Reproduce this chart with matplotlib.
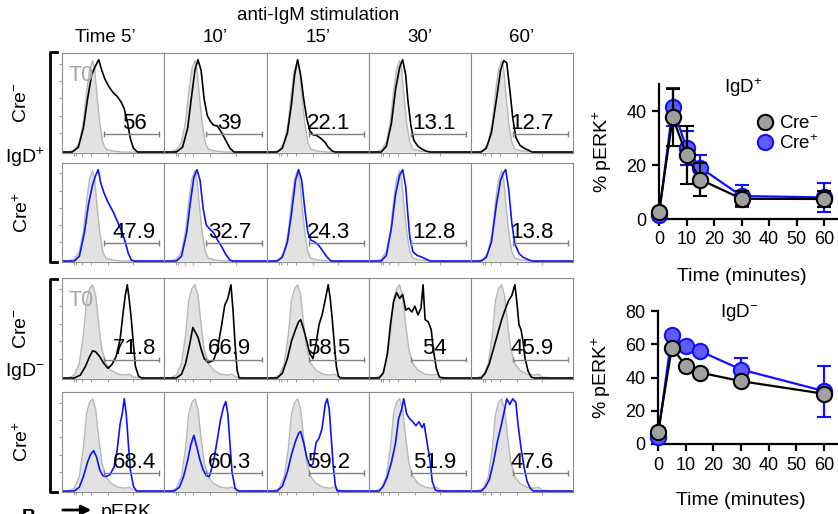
import matplotlib
matplotlib.use("Agg")
import matplotlib.pyplot as plt
from matplotlib.lines import Line2D

plt.rcParams['font.family'] = ['Liberation Sans', 'DejaVu Sans']
plt.rcParams['mathtext.fontset'] = 'custom'
plt.rcParams['mathtext.rm'] = 'Liberation Sans'
plt.rcParams['mathtext.it'] = 'Liberation Sans:italic'
plt.rcParams['mathtext.bf'] = 'Liberation Sans:bold'

# ---------------- data ----------------
time_labels = ["Time 5\u2019", "10\u2019", "15\u2019", "30\u2019", "60\u2019"]

# percent pERK+ in gate, per histogram row
pct_igdp_creneg = ["56", "39", "22.1", "13.1", "12.7"]
pct_igdp_crepos = ["47.9", "32.7", "24.3", "12.8", "13.8"]
pct_igdn_creneg = ["71.8", "66.9", "58.5", "54", "45.9"]
pct_igdn_crepos = ["68.4", "60.3", "59.2", "51.9", "47.6"]

# unstimulated (T0) histograms, (pERK position, normalised count)
t0_igdp = [(0, 0), (0.06, 0), (0.12, 0.02), (0.17, 0.1), (0.21, 0.32), (0.24, 0.62),
           (0.27, 0.86), (0.30, 0.95), (0.32, 0.86), (0.34, 0.62), (0.37, 0.3),
           (0.40, 0.1), (0.43, 0.03), (0.50, 0.01), (0.60, 0), (1, 0)]
t0_igdn = [(0, 0), (0.06, 0), (0.12, 0.03), (0.17, 0.15), (0.21, 0.45), (0.24, 0.8),
           (0.27, 0.92), (0.30, 0.96), (0.33, 0.85), (0.36, 0.55), (0.39, 0.3),
           (0.43, 0.15), (0.48, 0.08), (0.55, 0.04), (0.62, 0.03), (0.66, 0.04),
           (0.70, 0.01), (0.80, 0), (1, 0)]

# stimulated histograms, one per time point
igdp_creneg = [
    [(0, 0), (0.10, 0), (0.16, 0.05), (0.21, 0.25), (0.25, 0.55), (0.29, 0.8), (0.33, 0.9),
     (0.36, 0.96), (0.39, 0.85), (0.42, 0.76), (0.46, 0.68), (0.50, 0.62), (0.54, 0.58),
     (0.58, 0.52), (0.61, 0.45), (0.64, 0.32), (0.67, 0.14), (0.70, 0.04), (0.74, 0), (1, 0)],
    [(0, 0), (0.12, 0), (0.18, 0.05), (0.23, 0.25), (0.27, 0.6), (0.30, 0.85), (0.33, 0.96),
     (0.36, 0.85), (0.39, 0.55), (0.42, 0.38), (0.45, 0.32), (0.48, 0.28), (0.52, 0.27),
     (0.56, 0.2), (0.60, 0.12), (0.64, 0.04), (0.68, 0), (1, 0)],
    [(0, 0), (0.10, 0), (0.15, 0.04), (0.20, 0.2), (0.24, 0.5), (0.27, 0.8), (0.30, 0.96),
     (0.33, 0.8), (0.36, 0.55), (0.39, 0.35), (0.42, 0.22), (0.45, 0.18), (0.49, 0.17),
     (0.53, 0.14), (0.57, 0.1), (0.60, 0.05), (0.64, 0.01), (0.67, 0), (1, 0)],
    [(0, 0), (0.12, 0), (0.17, 0.06), (0.22, 0.3), (0.26, 0.65), (0.30, 0.88), (0.33, 0.96),
     (0.36, 0.8), (0.38, 0.55), (0.41, 0.28), (0.44, 0.12), (0.48, 0.06), (0.52, 0.03),
     (0.56, 0.01), (0.60, 0), (1, 0)],
    [(0, 0), (0.10, 0), (0.15, 0.04), (0.20, 0.2), (0.25, 0.55), (0.29, 0.85), (0.32, 0.95),
     (0.35, 0.93), (0.38, 0.65), (0.41, 0.35), (0.44, 0.15), (0.48, 0.07), (0.52, 0.04),
     (0.56, 0.02), (0.60, 0), (1, 0)],
]
igdp_crepos = [
    [(0, 0), (0.12, 0), (0.17, 0.05), (0.22, 0.3), (0.26, 0.6), (0.30, 0.8), (0.33, 0.9),
     (0.355, 0.96), (0.38, 0.82), (0.41, 0.72), (0.45, 0.62), (0.50, 0.52), (0.55, 0.4),
     (0.59, 0.3), (0.62, 0.2), (0.65, 0.08), (0.68, 0.01), (0.71, 0), (1, 0)],
    [(0, 0), (0.12, 0), (0.17, 0.05), (0.22, 0.3), (0.26, 0.65), (0.29, 0.88), (0.32, 0.96),
     (0.35, 0.85), (0.38, 0.55), (0.41, 0.38), (0.44, 0.34), (0.48, 0.3), (0.52, 0.22),
     (0.56, 0.15), (0.60, 0.07), (0.64, 0.01), (0.67, 0), (1, 0)],
    [(0, 0), (0.10, 0), (0.15, 0.04), (0.20, 0.2), (0.24, 0.5), (0.28, 0.85), (0.31, 0.96),
     (0.34, 0.85), (0.37, 0.55), (0.40, 0.3), (0.43, 0.22), (0.47, 0.2), (0.51, 0.16),
     (0.55, 0.1), (0.59, 0.04), (0.63, 0), (1, 0)],
    [(0, 0), (0.12, 0), (0.17, 0.06), (0.22, 0.35), (0.26, 0.7), (0.30, 0.9), (0.33, 0.96),
     (0.36, 0.78), (0.38, 0.5), (0.40, 0.25), (0.43, 0.1), (0.47, 0.06), (0.52, 0.04),
     (0.56, 0.02), (0.60, 0), (1, 0)],
    [(0, 0), (0.10, 0), (0.15, 0.04), (0.20, 0.2), (0.25, 0.6), (0.29, 0.85), (0.32, 0.93),
     (0.34, 0.96), (0.37, 0.75), (0.40, 0.4), (0.43, 0.18), (0.47, 0.08), (0.51, 0.04),
     (0.55, 0.02), (0.60, 0), (1, 0)],
]
igdn_creneg = [
    [(0, 0), (0.12, 0), (0.18, 0.03), (0.23, 0.12), (0.27, 0.22), (0.30, 0.28), (0.33, 0.27),
     (0.37, 0.22), (0.41, 0.15), (0.45, 0.1), (0.49, 0.14), (0.53, 0.22), (0.57, 0.4),
     (0.60, 0.68), (0.62, 0.85), (0.64, 0.96), (0.66, 0.8), (0.68, 0.6), (0.70, 0.35),
     (0.72, 0.12), (0.75, 0.02), (0.78, 0), (1, 0)],
    [(0, 0), (0.12, 0), (0.17, 0.04), (0.21, 0.15), (0.25, 0.35), (0.28, 0.52), (0.30, 0.48),
     (0.33, 0.42), (0.36, 0.3), (0.39, 0.2), (0.43, 0.16), (0.48, 0.18), (0.52, 0.3),
     (0.56, 0.55), (0.59, 0.75), (0.62, 0.82), (0.65, 0.96), (0.67, 0.7), (0.69, 0.35),
     (0.71, 0.08), (0.73, 0), (1, 0)],
    [(0, 0), (0.10, 0), (0.15, 0.05), (0.20, 0.2), (0.24, 0.38), (0.28, 0.5), (0.31, 0.58),
     (0.33, 0.6), (0.36, 0.5), (0.39, 0.38), (0.42, 0.25), (0.45, 0.2), (0.48, 0.35),
     (0.51, 0.55), (0.54, 0.65), (0.57, 0.8), (0.60, 0.96), (0.62, 0.82), (0.64, 0.6),
     (0.66, 0.35), (0.68, 0.12), (0.70, 0.02), (0.72, 0), (1, 0)],
    [(0, 0), (0.10, 0), (0.14, 0.05), (0.18, 0.25), (0.21, 0.55), (0.24, 0.78), (0.27, 0.88),
     (0.30, 0.82), (0.33, 0.86), (0.36, 0.7), (0.39, 0.72), (0.42, 0.68), (0.45, 0.74),
     (0.48, 0.65), (0.51, 0.72), (0.53, 0.96), (0.55, 0.6), (0.58, 0.58), (0.61, 0.5),
     (0.63, 0.3), (0.66, 0.1), (0.69, 0.01), (0.72, 0), (1, 0)],
    [(0, 0), (0.10, 0), (0.14, 0.05), (0.18, 0.15), (0.22, 0.3), (0.26, 0.45), (0.30, 0.6),
     (0.34, 0.72), (0.37, 0.8), (0.40, 0.85), (0.43, 0.96), (0.45, 0.78), (0.47, 0.55),
     (0.49, 0.5), (0.51, 0.38), (0.53, 0.2), (0.56, 0.07), (0.59, 0.01), (0.62, 0), (1, 0)],
]
igdn_crepos = [
    [(0, 0), (0.12, 0), (0.17, 0.04), (0.21, 0.15), (0.25, 0.3), (0.28, 0.38), (0.31, 0.42),
     (0.34, 0.35), (0.37, 0.22), (0.40, 0.16), (0.43, 0.15), (0.47, 0.17), (0.51, 0.25),
     (0.54, 0.42), (0.57, 0.7), (0.59, 0.8), (0.61, 0.96), (0.63, 0.8), (0.65, 0.5),
     (0.67, 0.22), (0.70, 0.05), (0.73, 0), (1, 0)],
    [(0, 0), (0.10, 0), (0.15, 0.04), (0.19, 0.15), (0.23, 0.32), (0.26, 0.48), (0.29, 0.58),
     (0.32, 0.45), (0.35, 0.32), (0.38, 0.22), (0.41, 0.16), (0.44, 0.15), (0.48, 0.3),
     (0.52, 0.55), (0.55, 0.75), (0.58, 0.88), (0.60, 0.93), (0.62, 0.8), (0.64, 0.5),
     (0.66, 0.2), (0.69, 0.03), (0.72, 0), (1, 0)],
    [(0, 0), (0.10, 0), (0.15, 0.05), (0.20, 0.2), (0.24, 0.38), (0.28, 0.52), (0.31, 0.6),
     (0.33, 0.62), (0.36, 0.5), (0.39, 0.35), (0.42, 0.26), (0.45, 0.28), (0.48, 0.5),
     (0.51, 0.55), (0.54, 0.65), (0.57, 0.9), (0.59, 0.96), (0.61, 0.85), (0.63, 0.55),
     (0.65, 0.25), (0.67, 0.06), (0.69, 0), (1, 0)],
    [(0, 0), (0.10, 0), (0.14, 0.05), (0.18, 0.15), (0.22, 0.3), (0.26, 0.5), (0.29, 0.75),
     (0.32, 0.85), (0.34, 0.96), (0.37, 0.8), (0.40, 0.75), (0.43, 0.72), (0.46, 0.68),
     (0.49, 0.72), (0.52, 0.66), (0.54, 0.7), (0.57, 0.5), (0.60, 0.3), (0.62, 0.1),
     (0.65, 0.01), (0.68, 0), (1, 0)],
    [(0, 0), (0.10, 0), (0.14, 0.04), (0.18, 0.12), (0.22, 0.3), (0.26, 0.52), (0.30, 0.7),
     (0.33, 0.85), (0.35, 0.96), (0.38, 0.9), (0.41, 0.96), (0.44, 0.92), (0.46, 0.7),
     (0.49, 0.45), (0.52, 0.25), (0.55, 0.1), (0.58, 0.03), (0.61, 0), (1, 0)],
]

# summary time courses (% pERK+)
minutes = [0, 5, 10, 15, 30, 60]
igdp_neg_mean = [2.5, 37.6, 23.6, 14.6, 7.5, 7.4]
igdp_neg_sem = [0.5, 10.5, 10.8, 6.1, 2.8, 2.9]
igdp_pos_mean = [1.5, 41.4, 26.2, 19.0, 8.5, 8.0]
igdp_pos_sem = [0.5, 7.1, 6.3, 4.8, 4.0, 5.5]
igdn_neg_mean = [7.0, 58.0, 47.2, 43.0, 37.8, 30.2]
igdn_neg_sem = [1, 1, 1, 1, 1, 1]
igdn_pos_mean = [4.4, 65.8, 58.8, 56.0, 44.8, 31.8]
igdn_pos_sem = [1, 1, 1, 1, 7.2, 15.4]

# ---------------- figure ----------------
W, H = 838, 514
fig = plt.figure(figsize=(W / 100, H / 100), dpi=100)


def box(x0, y0, x1, y1):
    # pixel box (top-left origin) -> figure rect
    return [x0 / W, 1 - y1 / H, (x1 - x0) / W, (y1 - y0) / H]


col_edges = [62, 164, 267, 369, 471, 573]
row_edges = [(53, 153), (163, 262), (278, 379), (392, 492)]
label_x = [0.71, 0.64, 0.60, 0.64, 0.60]

hist_rows = [
    (igdp_creneg, t0_igdp, "black", pct_igdp_creneg),
    (igdp_crepos, t0_igdp, "#1010ff", pct_igdp_crepos),
    (igdn_creneg, t0_igdn, "black", pct_igdn_creneg),
    (igdn_crepos, t0_igdn, "#1010ff", pct_igdn_crepos),
]

for r, (curves, t0, col, pcts) in enumerate(hist_rows):
    y0, y1 = row_edges[r]
    for c in range(5):
        ax = fig.add_axes(box(col_edges[c], y0, col_edges[c + 1], y1))
        tx, ty = zip(*t0)
        ax.fill_between(tx, ty, color="#e2e2e2", lw=0)
        ax.plot(tx, ty, color="#b8b8b8", lw=1)
        sx, sy = zip(*curves[c])
        ax.plot(sx, sy, color=col, lw=1.2)
        # gate
        ax.hlines(0.19, 0.41, 0.95, color="#808080", lw=1)
        ax.vlines([0.41, 0.95], 0.16, 0.22, color="#808080", lw=1)
        ax.text(label_x[c], 0.30, pcts[c], ha="center", va="center", fontsize=16)
        if c == 0 and r in (0, 2):
            ax.text(0.06, 0.80, "T0", color="#a6a6a6", fontsize=15.5, va="center")
        ax.set_xlim(0, 1)
        ax.set_ylim(-0.01, 1.03)
        for s in ax.spines.values():
            s.set_color("#8c8c8c")
            s.set_linewidth(0.8)
        ax.set_xticks([0.12, 0.14, 0.2, 0.28, 0.45, 0.7])
        ax.set_xticklabels([])
        if c == 0:
            ax.set_yticks([0.2, 0.38, 0.56, 0.74, 0.92])
        else:
            ax.set_yticks([])
        ax.set_yticklabels([])
        ax.tick_params(length=2, width=0.6, color="#8c8c8c")

# column headers
fig.text(318 / W, 1 - 15 / H, "anti-IgM stimulation", ha="center", va="center", fontsize=13.5)
for c in range(5):
    cx = (col_edges[c] + col_edges[c + 1]) / 2
    if c == 0:
        cx -= 8
    fig.text(cx / W, 1 - 38 / H, time_labels[c], ha="center", va="center", fontsize=13.5)

# row labels and brackets
for (ya, yb), lab in zip(row_edges, ["Cre$^{-}$", "Cre$^{+}$", "Cre$^{-}$", "Cre$^{+}$"]):
    fig.text(22 / W, 1 - (ya + yb) / 2 / H, lab, rotation=90, ha="center", va="center", fontsize=14)
fig.text(5 / W, 1 - 157 / H, "IgD$^{+}$", ha="left", va="center", fontsize=14)
fig.text(5 / W, 1 - 372 / H, "IgD$^{-}$", ha="left", va="center", fontsize=14)
for ya, yb in [(52, 262), (279, 492)]:
    fig.add_artist(Line2D([57 / W, 50 / W, 50 / W, 57 / W],
                          [1 - ya / H, 1 - ya / H, 1 - yb / H, 1 - yb / H],
                          color="black", lw=2))

# bottom caption (cut off by the figure edge, as in the source panel)
fig.text(22 / W, -0.016, "B", fontsize=14, fontweight="bold")
fig.text(101 / W, -0.006, "pERK", fontsize=14)
fig.add_artist(matplotlib.patches.FancyArrowPatch((60 / W, 1 - 510 / H), (94 / W, 1 - 510 / H),
                                                  transform=fig.transFigure, arrowstyle="-|>",
                                                  mutation_scale=14, lw=2, color="black"))


# ---------------- time course panels ----------------
def style_axis(ax):
    ax.spines["top"].set_visible(False)
    ax.spines["right"].set_visible(False)
    for s in ("left", "bottom"):
        ax.spines[s].set_linewidth(1.6)
    ax.tick_params(direction="out", length=5, width=1.6, labelsize=13, pad=4)
    ax.set_xlim(0, 65)
    ax.set_xticks(range(0, 61, 10))
    ax.set_xlabel("Time (minutes)", fontsize=14)
    ax.xaxis.set_label_coords(0.46, -0.36)
    ax.set_ylabel("% pERK$^{+}$", fontsize=14, labelpad=9)


def draw_series(ax, mean, sem, face, edge, z):
    ax.errorbar(minutes, mean, yerr=sem, color=edge, lw=1.6, capsize=5, capthick=1.6,
                marker="o", markersize=11, markerfacecolor=face, markeredgecolor=edge,
                markeredgewidth=1.5, zorder=z, clip_on=False)


ax1 = fig.add_axes(box(659, 84, 838, 219))
draw_series(ax1, igdp_pos_mean, igdp_pos_sem, "#5c5cff", "#1010ff", 3)
draw_series(ax1, igdp_neg_mean, igdp_neg_sem, "#a0a0a0", "black", 4)
ax1.set_ylim(0, 50)
ax1.set_yticks([0, 20, 40])
style_axis(ax1)
ax1.text(0.47, 0.97, "IgD$^{+}$", transform=ax1.transAxes, ha="center", va="center", fontsize=13.5)
handles = [Line2D([], [], ls="none", marker="o", markersize=11, markerfacecolor="#a0a0a0",
                  markeredgecolor="black", markeredgewidth=1.5),
           Line2D([], [], ls="none", marker="o", markersize=11, markerfacecolor="#5c5cff",
                  markeredgecolor="#1010ff", markeredgewidth=1.5)]
ax1.legend(handles, ["Cre$^{-}$", "Cre$^{+}$"], loc="upper left", bbox_to_anchor=(0.545, 0.77),
           frameon=False, fontsize=13.5, handlelength=0.9, handletextpad=0.3,
           labelspacing=0.1, borderaxespad=0, borderpad=0)

ax2 = fig.add_axes(box(658, 311, 838, 444))
draw_series(ax2, igdn_pos_mean, igdn_pos_sem, "#5c5cff", "#1010ff", 3)
draw_series(ax2, igdn_neg_mean, igdn_neg_sem, "#a0a0a0", "black", 4)
ax2.set_ylim(0, 80)
ax2.set_yticks([0, 20, 40, 60, 80])
style_axis(ax2)
ax2.text(0.45, 0.99, "IgD$^{-}$", transform=ax2.transAxes, ha="center", va="center", fontsize=13.5)

fig.savefig("out.png", dpi=100)
